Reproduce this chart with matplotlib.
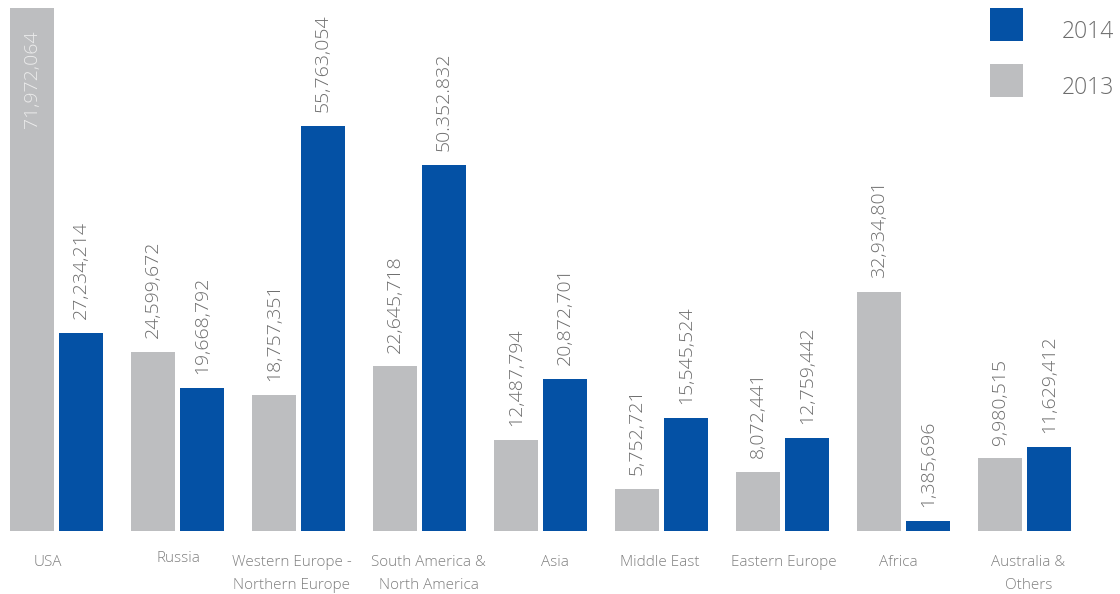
import matplotlib
matplotlib.use("Agg")
import matplotlib.pyplot as plt
from matplotlib.patches import Rectangle
from matplotlib.transforms import ScaledTranslation, blended_transform_factory
import numpy as np

plt.rcParams['font.family'] = ['Open Sans', 'DejaVu Sans']

categories = ["USA", "Russia", "Western Europe -\nNorthern Europe", "South America &\nNorth America",
              "Asia", "Middle East", "Eastern Europe", "Africa", "Australia &\nOthers"]
values_2013 = [71972064, 24599672, 18757351, 22645718, 12487794, 5752721, 8072441, 32934801, 9980515]
values_2014 = [27234214, 19668792, 55763054, 50352832, 20872701, 15545524, 12759442, 1385696, 11629412]
labels_2013 = ["71,972,064", "24,599,672", "18,757,351", "22,645,718", "12,487,794", "5,752,721",
               "8,072,441", "32,934,801", "9,980,515"]
labels_2014 = ["27,234,214", "19,668,792", "55,763,054", "50.352.832", "20,872,701", "15,545,524",
               "12,759,442", "1,385,696", "11,629,412"]
series_names = ["2014", "2013"]

GRAY = "#BDBEC0"
BLUE = "#0451A5"
TXT = "#6d6d6d"

W, H, DPI = 1120, 594, 100
fig = plt.figure(figsize=(W / DPI, H / DPI), dpi=DPI)
base_px = 63
ax = fig.add_axes([0, base_px / H, 1, (H - base_px) / H])

pitch = 121.0
bw = 44 / pitch
off = 24.5 / pitch
x = np.arange(len(categories))

b13 = ax.bar(x - off, values_2013, width=bw, color=GRAY, linewidth=0)
b14 = ax.bar(x + off, values_2014, width=bw, color=BLUE, linewidth=0)

ax.set_xlim(-56.5 / pitch, (W - 56.5) / pitch)
ax.set_ylim(0, (H - base_px) / 7.265 * 1e6)

vmax = max(values_2013 + values_2014)
for xi, v, lab in zip(x - off, values_2013, labels_2013):
    if v == vmax:
        ax.annotate(lab, (xi, v), xytext=(0, -16), textcoords="offset points",
                    rotation=90, ha="center", va="top", fontsize=14, color="#ececec",
                    fontweight="light")
    else:
        ax.annotate(lab, (xi, v), xytext=(0, 10), textcoords="offset points",
                    rotation=90, ha="center", va="bottom", fontsize=14, color=TXT,
                    fontweight="light")
for xi, v, lab in zip(x + off, values_2014, labels_2014):
    ax.annotate(lab, (xi, v), xytext=(0, 10), textcoords="offset points",
                rotation=90, ha="center", va="bottom", fontsize=14, color=TXT,
                fontweight="light")

# category labels (with the small horizontal nudges seen in the reference, in pixels)
label_dx = [-9, 1, -7, 9, 14, -2, 1, -5, 4]
label_dy = [0, 4, 0, 0, 0, 0, 0, 0, 0]
btrans = blended_transform_factory(ax.transData, ax.transAxes)
for xi, cat, dx, dy in zip(x, categories, label_dx, label_dy):
    tr = btrans + ScaledTranslation(dx / DPI, (dy - 24) / DPI, fig.dpi_scale_trans)
    ax.text(xi, 0, cat, transform=tr, ha="center", va="top", fontsize=11,
            color="#808080", fontweight="light", linespacing=1.7, multialignment="center")

ax.set_xticks([])
ax.set_yticks([])
for s in ax.spines.values():
    s.set_visible(False)

# legend
for i, (name, col) in enumerate(zip(series_names, [BLUE, GRAY])):
    top = 8 + i * 56
    fig.patches.append(Rectangle((990 / W, (H - top - 33) / H), 33 / W, 33 / H,
                                 transform=fig.transFigure, facecolor=col, edgecolor="none"))
    fig.text(1062 / W, (H - top - 24) / H, name, fontsize=16.5, color=TXT,
             va="center", ha="left", fontweight="light")

fig.savefig("out.png", dpi=DPI)
